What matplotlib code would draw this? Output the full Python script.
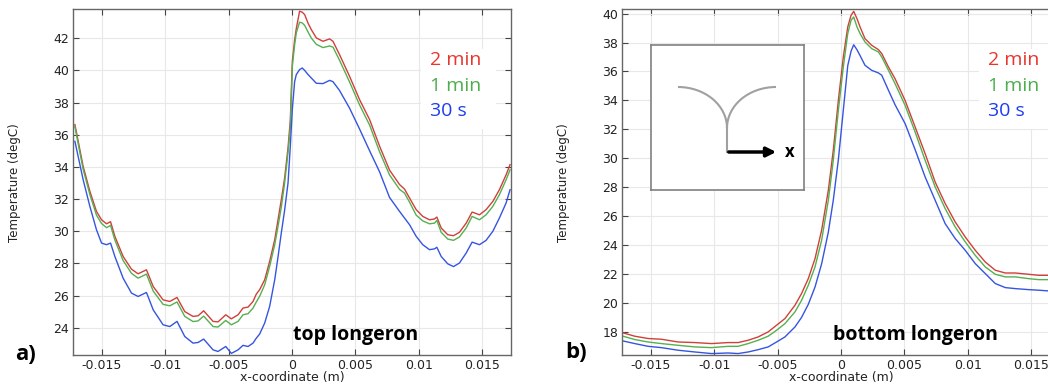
import numpy as np
import matplotlib.pyplot as plt
from matplotlib.patches import Rectangle, Arc

# ---- panel a) top longeron ----
x_top = [-0.01711, -0.01646, -0.01593, -0.01541, -0.01501, -0.01462, -0.01430, -0.01396,
         -0.01331, -0.01265, -0.01213, -0.01147, -0.01094, -0.01016, -0.00963, -0.00906,
         -0.00845, -0.00780, -0.00740, -0.00696, -0.00622, -0.00583, -0.00522, -0.00478,
         -0.00425, -0.00386, -0.00346, -0.00307, -0.00281, -0.00255, -0.00215, -0.00176,
         -0.00136, -0.00110, -0.00084, -0.00058, -0.00031, -0.00013, 0.00003, 0.00021,
         0.00034, 0.00060, 0.00081, 0.00100, 0.00126, 0.00152, 0.00192, 0.00244,
         0.00297, 0.00323, 0.00375, 0.00454, 0.00533, 0.00612, 0.00690, 0.00769,
         0.00848, 0.00887, 0.00927, 0.00979, 0.01031, 0.01084, 0.01123, 0.01142,
         0.01176, 0.01228, 0.01273, 0.01320, 0.01373, 0.01420, 0.01478, 0.01530,
         0.01583, 0.01635, 0.01688, 0.01719]
top_2min = [36.63, 34.03, 32.48, 31.23, 30.71, 30.46, 30.59, 29.68,
            28.43, 27.64, 27.35, 27.60, 26.56, 25.73, 25.63, 25.88,
            25.00, 24.70, 24.74, 25.05, 24.39, 24.36, 24.80, 24.55,
            24.80, 25.22, 25.28, 25.63, 26.09, 26.36, 26.98, 28.12,
            29.47, 30.71, 31.96, 33.30, 35.20, 36.90, 40.57, 41.90,
            42.60, 43.68, 43.62, 43.47, 42.95, 42.54, 42.02, 41.81,
            41.96, 41.81, 40.98, 39.63, 38.18, 36.94, 35.30, 33.80,
            32.90, 32.62, 32.06, 31.34, 30.92, 30.71, 30.76, 30.88,
            30.20, 29.78, 29.72, 29.93, 30.50, 31.19, 31.02, 31.34,
            31.85, 32.58, 33.51, 34.14]
top_1min = [36.50, 33.85, 32.28, 31.00, 30.48, 30.22, 30.36, 29.45,
            28.18, 27.38, 27.08, 27.33, 26.28, 25.45, 25.36, 25.60,
            24.70, 24.38, 24.42, 24.72, 24.07, 24.04, 24.45, 24.18,
            24.39, 24.80, 24.87, 25.22, 25.60, 25.95, 26.67, 27.81,
            29.16, 30.30, 31.50, 33.00, 34.90, 36.50, 40.26, 41.60,
            42.33, 43.00, 42.95, 42.80, 42.40, 42.02, 41.62, 41.42,
            41.52, 41.45, 40.63, 39.28, 37.85, 36.60, 34.95, 33.50,
            32.60, 32.37, 31.80, 31.00, 30.64, 30.46, 30.50, 30.67,
            29.93, 29.51, 29.43, 29.64, 30.20, 30.92, 30.71, 31.02,
            31.54, 32.27, 33.20, 33.82]
top_30s = [35.59, 33.20, 31.54, 30.09, 29.26, 29.16, 29.26, 28.43,
           27.08, 26.15, 25.94, 26.19, 25.11, 24.18, 24.07, 24.39,
           23.45, 23.04, 23.08, 23.29, 22.62, 22.52, 22.83, 22.40,
           22.62, 22.90, 22.83, 23.04, 23.35, 23.60, 24.29, 25.32,
           26.98, 28.40, 29.90, 31.30, 33.00, 35.30, 37.60, 39.30,
           39.74, 40.05, 40.15, 40.00, 39.75, 39.53, 39.20, 39.18,
           39.38, 39.30, 38.75, 37.65, 36.35, 35.00, 33.70, 32.10,
           31.23, 30.82, 30.40, 29.68, 29.16, 28.85, 28.90, 29.00,
           28.43, 27.97, 27.80, 28.02, 28.64, 29.32, 29.16, 29.43,
           29.99, 30.82, 31.76, 32.58]

# ---- panel b) bottom longeron ----
x_bot = [-0.01718, -0.01626, -0.01521, -0.01416, -0.01284, -0.01153, -0.01021, -0.00889,
         -0.00811, -0.00732, -0.00653, -0.00574, -0.00508, -0.00442, -0.00363, -0.00311,
         -0.00258, -0.00205, -0.00153, -0.00100, -0.00061, -0.00021, 0.00018, 0.00053,
         0.00079, 0.00100, 0.00126, 0.00150, 0.00189, 0.00242, 0.00295, 0.00321,
         0.00374, 0.00426, 0.00505, 0.00584, 0.00663, 0.00742, 0.00821, 0.00900,
         0.00979, 0.01058, 0.01137, 0.01216, 0.01295, 0.01374, 0.01479, 0.01558,
         0.01637, 0.01720]
bot_2min = [17.93, 17.70, 17.54, 17.49, 17.30, 17.26, 17.19, 17.26,
            17.26, 17.42, 17.65, 18.00, 18.46, 18.92, 19.84, 20.65,
            21.68, 23.06, 25.02, 27.79, 30.55, 34.00, 37.00, 39.08,
            39.88, 40.16, 39.65, 39.08, 38.27, 37.81, 37.51, 37.24,
            36.31, 35.50, 34.00, 32.17, 30.32, 28.36, 26.87, 25.60,
            24.56, 23.64, 22.83, 22.26, 22.07, 22.07, 21.98, 21.91,
            21.91, 21.90]
bot_1min = [17.70, 17.47, 17.30, 17.19, 17.07, 16.96, 16.91, 17.00,
            17.00, 17.19, 17.42, 17.70, 18.11, 18.57, 19.38, 20.18,
            21.22, 22.49, 24.33, 27.10, 29.86, 33.32, 36.31, 38.62,
            39.54, 39.77, 39.08, 38.62, 38.04, 37.58, 37.35, 37.00,
            36.08, 35.16, 33.66, 31.82, 29.86, 28.02, 26.52, 25.25,
            24.22, 23.29, 22.49, 21.98, 21.80, 21.80, 21.68, 21.61,
            21.61, 21.60]
bot_30s = [17.37, 17.19, 17.00, 16.91, 16.73, 16.61, 16.50, 16.54,
           16.50, 16.61, 16.77, 16.96, 17.30, 17.65, 18.34, 19.00,
           19.90, 21.10, 22.70, 24.90, 27.10, 29.90, 33.32, 36.40,
           37.40, 37.85, 37.50, 37.10, 36.43, 36.08, 35.90, 35.74,
           34.70, 33.70, 32.40, 30.60, 28.71, 27.10, 25.48, 24.45,
           23.64, 22.72, 22.03, 21.34, 21.06, 20.99, 20.92, 20.88,
           20.83, 20.80]

labels = ['2 min', '1 min', '30 s']
line_colors = ['#d0403a', '#55b050', '#3555e0']
text_colors = ['#e8352e', '#4cae4c', '#1e3cf0']

xticks = [-0.015, -0.01, -0.005, 0, 0.005, 0.01, 0.015]
xticklabels = ['-0.015', '-0.01', '-0.005', '0', '0.005', '0.01', '0.015']

fig = plt.figure(figsize=(10.48, 3.86), dpi=100)
ax1 = fig.add_axes([0.0699, 0.0803, 0.4174, 0.8956])
ax2 = fig.add_axes([0.5938, 0.0803, 0.4174, 0.8956])


def style_axes(ax, ylim, yticks):
    ax.set_xlim(-0.01724, 0.01724)
    ax.set_ylim(*ylim)
    ax.set_xticks(xticks)
    ax.set_xticklabels(xticklabels)
    ax.set_yticks(yticks)
    ax.tick_params(direction='in', length=4, width=0.8, color='#444444',
                   top=True, right=True, labelsize=9, labelcolor='#222222', pad=3)
    ax.grid(True, color='#e8e8e8', lw=0.8)
    ax.set_axisbelow(True)
    for s in ax.spines.values():
        s.set_color('#666666')
        s.set_linewidth(1.0)
    ax.set_xlabel('x-coordinate (m)', fontsize=9, color='#222222', labelpad=-1)
    ax.set_ylabel('Temperature (degC)', fontsize=8.5, color='#222222', labelpad=23)


style_axes(ax1, (22.3, 43.8), np.arange(24, 43, 2))
style_axes(ax2, (16.4, 40.3), np.arange(18, 41, 2))

for ys, c in zip([top_2min, top_1min, top_30s], line_colors):
    ax1.plot(x_top, ys, color=c, lw=1.0)
for ys, c in zip([bot_2min, bot_1min, bot_30s], line_colors):
    ax2.plot(x_bot, ys, color=c, lw=1.0)

# legend-like colored labels on white patch
for ax, lx in [(ax1, 0.8155), (ax2, 0.836)]:
    ax.add_patch(Rectangle((lx - 0.02, 0.655), 0.17, 0.23, transform=ax.transAxes,
                           facecolor='white', edgecolor='none', zorder=3))
    for i, (lab, c) in enumerate(zip(labels, text_colors)):
        ax.text(lx, 0.853 - i * 0.0735, lab, transform=ax.transAxes, color=c,
                fontsize=14, family='Open Sans', ha='left', va='center', zorder=4)

ax1.text(0.6456, 0.058, 'top longeron', transform=ax1.transAxes, fontsize=14,
         fontweight='bold', family='Open Sans', ha='center', va='center')
ax2.text(0.67, 0.058, 'bottom longeron', transform=ax2.transAxes, fontsize=14,
         fontweight='bold', family='Open Sans', ha='center', va='center')

fig.text(26 / 1048, 1 - 355 / 386, 'a)', fontsize=16, fontweight='bold',
         family='Open Sans', ha='center', va='center')
fig.text(576 / 1048, 1 - 353 / 386, 'b)', fontsize=16, fontweight='bold',
         family='Open Sans', ha='center', va='center')

# inset sketch of the longeron cross-section
ins = fig.add_axes([651 / 1048, 1 - 190 / 386, 153 / 1048, 145 / 386])
ins.set_xlim(0, 153)
ins.set_ylim(145, 0)
ins.set_xticks([])
ins.set_yticks([])
for s in ins.spines.values():
    s.set_color('#808080')
    s.set_linewidth(1.2)
ins.add_patch(Arc((27, 83), 98, 82, theta1=270, theta2=360, color='#a0a0a0', lw=1.5))
ins.add_patch(Arc((125, 83), 98, 82, theta1=180, theta2=270, color='#a0a0a0', lw=1.5))
ins.plot([76, 76], [83, 107], color='#a0a0a0', lw=1.5)
ins.annotate('', xy=(128, 107), xytext=(75, 107),
             arrowprops=dict(arrowstyle='-|>', color='black', lw=2.5, mutation_scale=14))
ins.text(139, 107, 'x', fontsize=12, fontweight='bold', family='Open Sans',
         ha='center', va='center')

fig.savefig('out.png', dpi=100)
